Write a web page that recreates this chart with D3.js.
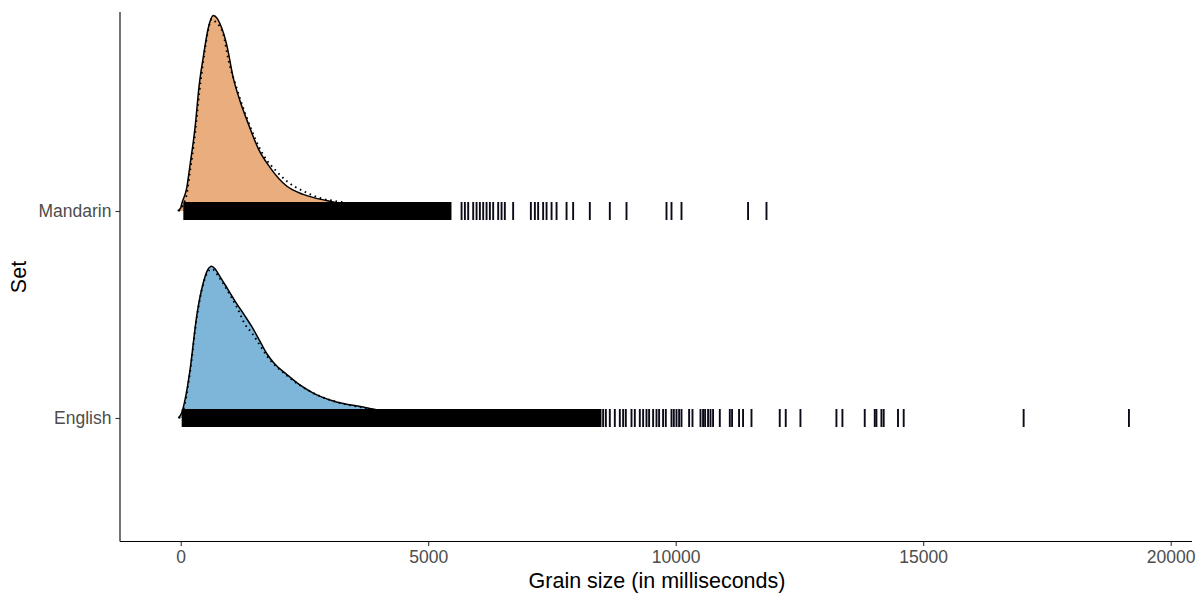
<!DOCTYPE html>
<html><head><meta charset="utf-8">
<script src="https://cdn.jsdelivr.net/npm/d3@7"></script>
<style>body{margin:0;background:#fff}svg{display:block}</style>
</head><body>
<svg id="c" width="1198" height="594"></svg>
<script>
// ---- data ----
const categories = ["English", "Mandarin"];
const xTicks = [0, 5000, 10000, 15000, 20000];
const fillColors = ["#7EB6D9", "#EAAE7E"];

// density ridge (solid) : [ms, height in ridge units]
const englishDensity = [[-50,0],[20,0.024],[87,0.087],[188,0.23],[323,0.49],[456,0.65],[540,0.71],[626,0.73],[700,0.715],[794,0.68],[950,0.62],[1131,0.55],[1300,0.49],[1434,0.44],[1600,0.37],[1737,0.31],[1900,0.26],[2140,0.21],[2400,0.16],[2678,0.12],[3150,0.077],[3687,0.053],[3883,0.043],[4300,0.025],[4800,0.012],[5300,0.005]];
const mandarinDensity = [[-60,0],[0,0.015],[20,0.034],[121,0.11],[188,0.22],[289,0.40],[376,0.61],[456,0.74],[557,0.88],[658,0.94],[740,0.925],[794,0.90],[929,0.80],[1062,0.64],[1197,0.53],[1365,0.42],[1567,0.30],[1803,0.21],[2140,0.12],[2476,0.08],[2948,0.05],[3150,0.04],[3500,0.025],[4000,0.012],[4500,0.005]];
// fitted curve (dotted)
const englishFit = [[-40,0],[20,0.015],[87,0.07],[188,0.22],[323,0.48],[456,0.645],[540,0.70],[626,0.716],[794,0.67],[1000,0.59],[1131,0.535],[1300,0.45],[1434,0.41],[1600,0.35],[1737,0.30],[2140,0.205],[2678,0.12],[3150,0.077],[3687,0.05],[4200,0.028],[4800,0.013]];
const mandarinFit = [[-40,0],[50,0.03],[121,0.08],[188,0.19],[289,0.37],[376,0.57],[456,0.72],[540,0.85],[626,0.923],[700,0.91],[860,0.85],[961,0.73],[1131,0.59],[1333,0.45],[1500,0.35],[1668,0.27],[1939,0.19],[2140,0.144],[2476,0.096],[2813,0.0625],[3251,0.043],[3700,0.025],[4200,0.012]];

// rug: dense core range and individual sparse ticks (ms)
const englishRugCore = [20, 8500];
const mandarinRugCore = [53, 5470];
const englishRug = [8534,8589,8669,8770,8871,8938,8992,9107,9174,9275,9342,9410,9463,9544,9612,9665,9745,9800,9915,9962,10016,10069,10117,10271,10339,10501,10553,10594,10654,10703,10755,10891,11093,11139,11280,11361,11531,12102,12223,12520,13247,13368,13819,14021,14055,14156,14202,14491,14606,17029,19156];
const mandarinRug = [5674,5741,5808,5909,5977,6044,6111,6179,6246,6313,6414,6482,6548,6716,7074,7155,7221,7322,7391,7492,7593,7795,7928,8265,8669,9006,9814,9915,10117,11462,11834];

// ---- drawing ----
const svg = d3.select("#c");
const panel = {left: 120, right: 1192, top: 12, bottom: 541.5};
const x = d3.scaleLinear().domain([0, 20000]).range([180.7, 1170.7]);
const y = d3.scalePoint().domain(categories).range([418, 211]);
const h = d3.scaleLinear().domain([0, 1]).range([0, 208]);

const ridges = [
  {cat: "Mandarin", dens: mandarinDensity, fit: mandarinFit, core: mandarinRugCore, rug: mandarinRug, fill: fillColors[1]},
  {cat: "English", dens: englishDensity, fit: englishFit, core: englishRugCore, rug: englishRug, fill: fillColors[0]}
];

ridges.forEach(r => {
  const base = y(r.cat);
  const area = d3.area().x(d => x(d[0])).y0(base).y1(d => base - h(d[1])).curve(d3.curveMonotoneX);
  const line = d3.line().x(d => x(d[0])).y(d => base - h(d[1])).curve(d3.curveMonotoneX);
  svg.append("path").attr("d", area(r.dens)).attr("fill", r.fill);
  svg.append("path").attr("d", line(r.dens)).attr("fill", "none").attr("stroke", "#000").attr("stroke-width", 1.5);
  svg.append("path").attr("d", line(r.fit)).attr("fill", "none").attr("stroke", "#000").attr("stroke-width", 1.9)
     .attr("stroke-dasharray", "1.6,3.8");
  // rug
  svg.append("rect").attr("x", x(r.core[0])).attr("width", x(r.core[1]) - x(r.core[0]))
     .attr("y", base - 9).attr("height", 18).attr("fill", "#000");
  svg.append("g").selectAll("line").data(r.rug).join("line")
     .attr("x1", d => x(d)).attr("x2", d => x(d))
     .attr("y1", base - 9).attr("y2", base + 9)
     .attr("stroke", "#0a0a18").attr("stroke-width", 1.9);
});

// axes
const font = "'Liberation Sans', Arial, sans-serif";
const xAxis = svg.append("g").attr("transform", `translate(0,${panel.bottom})`)
  .call(d3.axisBottom(x).tickValues(xTicks).tickSize(4.5).tickPadding(5).tickFormat(d3.format("d")));
xAxis.select(".domain").attr("d", `M${panel.left},0H${panel.right}`);
const yAxis = svg.append("g").attr("transform", `translate(${panel.left},0)`)
  .call(d3.axisLeft(y).tickSize(4.5).tickPadding(4));
yAxis.select(".domain").attr("d", `M0,${panel.top}V${panel.bottom}`);
[xAxis, yAxis].forEach(a => {
  a.select(".domain").attr("stroke", "#000").attr("stroke-width", 1.1);
  a.selectAll(".tick line").attr("stroke", "#333").attr("stroke-width", 1.1);
  a.selectAll(".tick text").attr("fill", "#4D4D4D").style("font-family", font).style("font-size", "17.5px");
});

svg.append("text").attr("x", 657).attr("y", 588).attr("text-anchor", "middle")
  .style("font-family", font).style("font-size", "21.5px").attr("fill", "#000").text("Grain size (in milliseconds)");
svg.append("text").attr("transform", "translate(26,277) rotate(-90)").attr("text-anchor", "middle")
  .style("font-family", font).style("font-size", "21.5px").attr("fill", "#000").text("Set");
</script>
</body></html>
